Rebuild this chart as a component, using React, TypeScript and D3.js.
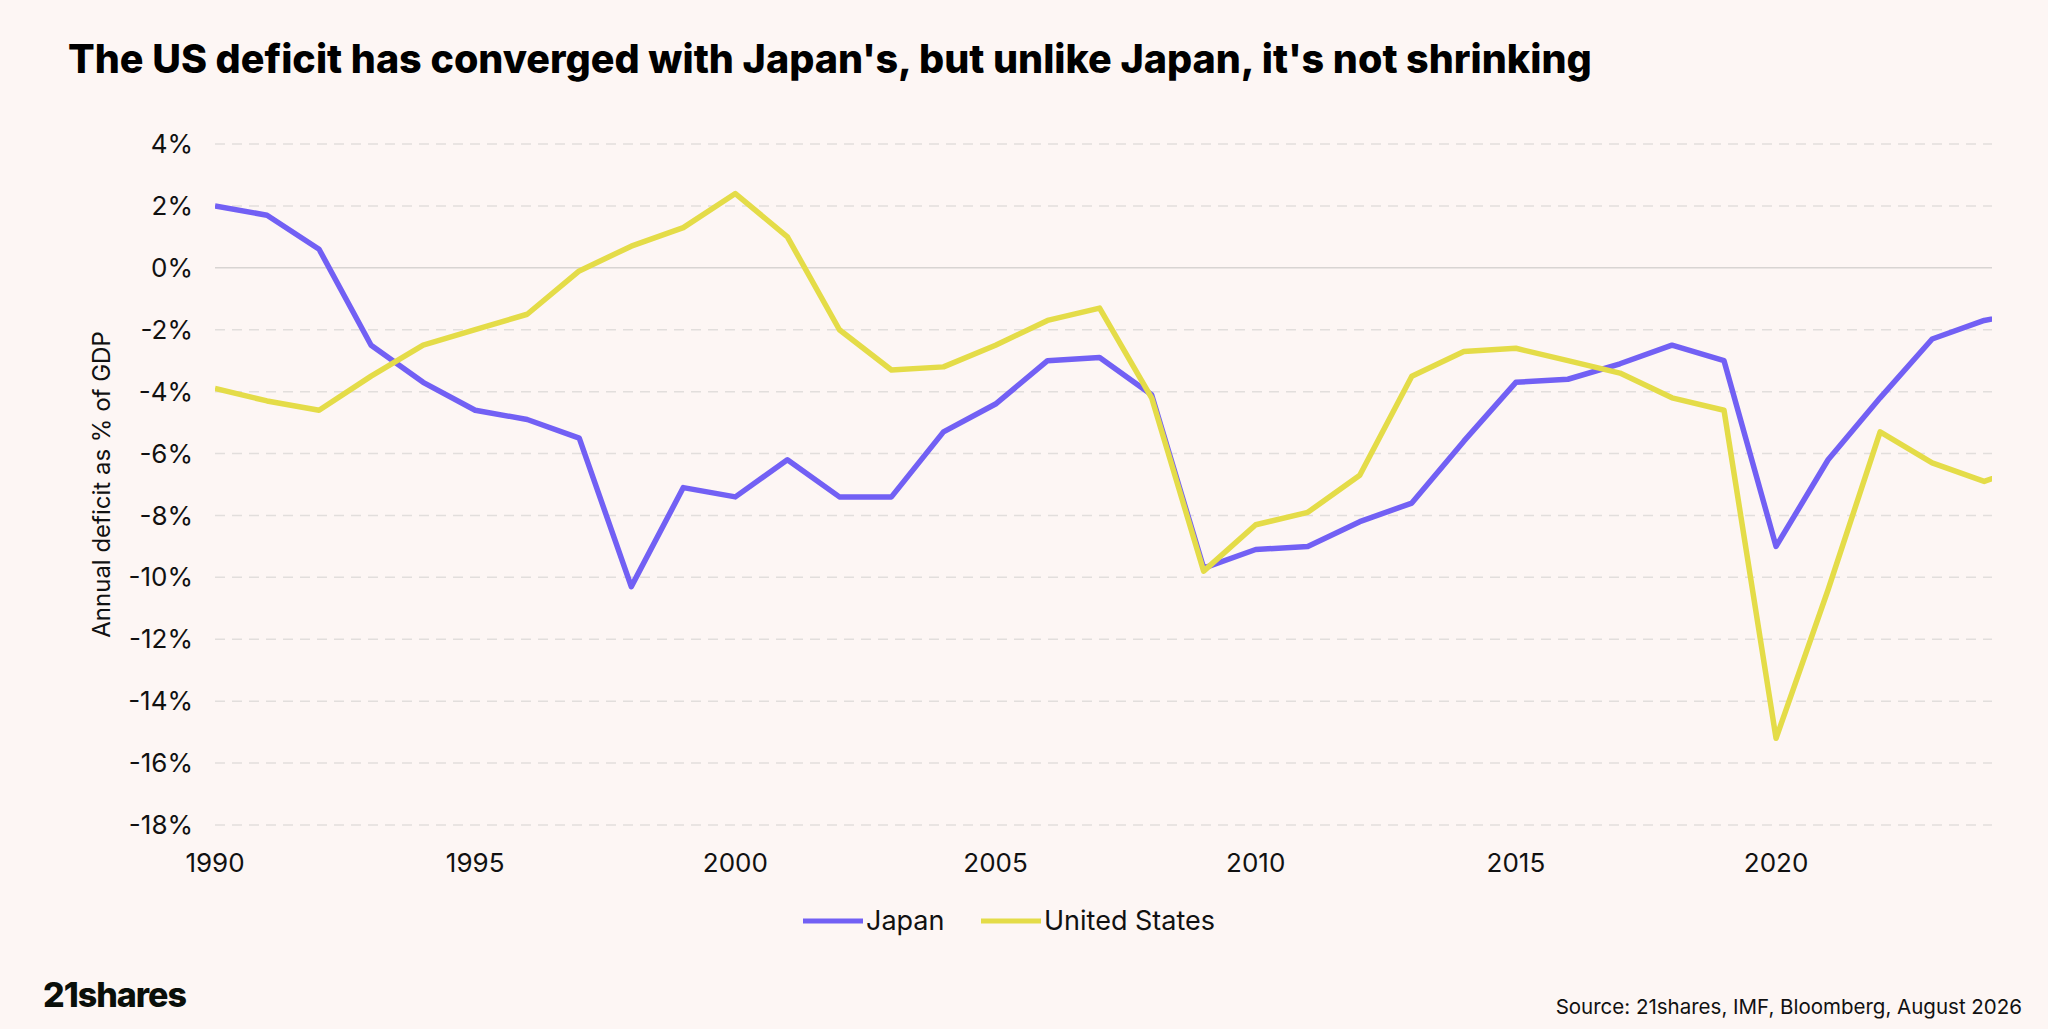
import * as d3 from 'd3';

const years = d3.range(1990, 2026);
const japan = [2.0, 1.7, 0.6, -2.5, -3.7, -4.6, -4.9, -5.5, -10.3, -7.1, -7.4, -6.2, -7.4, -7.4, -5.3, -4.4, -3.0, -2.9, -4.1, -9.7, -9.1, -9.0, -8.2, -7.6, -5.6, -3.7, -3.6, -3.1, -2.5, -3.0, -9.0, -6.2, -4.2, -2.3, -1.7, -1.4];
const usa = [-3.9, -4.3, -4.6, -3.5, -2.5, -2.0, -1.5, -0.1, 0.7, 1.3, 2.4, 1.0, -2.0, -3.3, -3.2, -2.5, -1.7, -1.3, -4.2, -9.8, -8.3, -7.9, -6.7, -3.5, -2.7, -2.6, -3.0, -3.4, -4.2, -4.6, -15.2, -10.4, -5.3, -6.3, -6.9, -6.3];
const yTicks = d3.range(4, -19, -2);
const xTicks = [1990, 1995, 2000, 2005, 2010, 2015, 2020];

const W = 2048, H = 1029;
const left = 215, right = 1992, top = 144, bottom = 825;
const font = 'Inter, "Noto Sans", sans-serif';

export default function App() {
  const x = d3.scaleLinear().domain([1990, 2024.15]).range([left, right]);
  const y = d3.scaleLinear().domain([4, -18]).range([top, bottom]);
  const line = d3.line<number>().x((_, i) => x(years[i])).y((d) => y(d));
  const series = [
    { name: 'Japan', values: japan, color: '#7260f4' },
    { name: 'United States', values: usa, color: '#e4dc48' },
  ];
  return (
    <div style={{ position: 'fixed', left: 0, top: 0 }}>
      <svg width={W} height={H} style={{ display: 'block', background: '#fdf6f4', fontFamily: font }}>
        <defs>
          <clipPath id="plot"><rect x={left} y={0} width={right - left} height={H} /></clipPath>
        </defs>
        <text x={68} y={73} fontSize={39.5} fontWeight={800} fill="#000">
          The US deficit has converged with Japan's, but unlike Japan, it's not shrinking
        </text>
        {yTicks.map((t) => (
          <g key={t}>
            <line x1={left} x2={right} y1={y(t)} y2={y(t)} stroke={t === 0 ? '#d8d4d2' : '#e2dedc'} strokeWidth={1.5} strokeDasharray={t === 0 ? undefined : '10 7'} />
            <text x={193} y={y(t)} dy="0.35em" textAnchor="end" fontSize={26} fill="#111">{t}%</text>
          </g>
        ))}
        {xTicks.map((t) => (
          <text key={t} x={x(t)} y={872} textAnchor="middle" fontSize={26} fill="#111">{t}</text>
        ))}
        <text transform={`translate(110,${(top + bottom) / 2}) rotate(-90)`} textAnchor="middle" fontSize={24} fill="#111">
          Annual deficit as % of GDP
        </text>
        <g clipPath="url(#plot)">
          {series.map((s) => (
            <path key={s.name} d={line(s.values) || ''} fill="none" stroke={s.color} strokeWidth={5.5} strokeLinejoin="round" />
          ))}
        </g>
        <g transform="translate(803,921)">
          <line x1={0} x2={60} y1={0} y2={0} stroke="#7260f4" strokeWidth={5} />
          <text x={63} y={0} dy="0.35em" fontSize={27} fill="#111">Japan</text>
          <line x1={178} x2={238} y1={0} y2={0} stroke="#e4dc48" strokeWidth={5} />
          <text x={241} y={0} dy="0.35em" fontSize={27} fill="#111">United States</text>
        </g>
        <text x={43} y={1007} fontSize={34} fontWeight={800} fill="#0a0f0a" letterSpacing={-1}>21shares</text>
        <text x={2022} y={1014} textAnchor="end" fontSize={20.5} fill="#111">Source: 21shares, IMF, Bloomberg, August 2026</text>
      </svg>
    </div>
  );
}
